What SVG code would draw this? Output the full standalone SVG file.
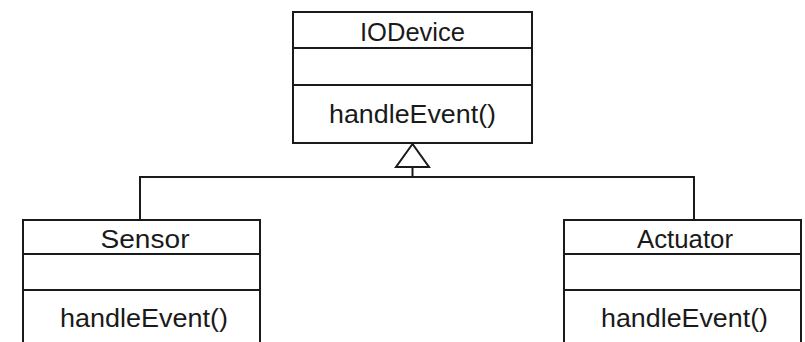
<svg xmlns="http://www.w3.org/2000/svg" width="805" height="342" viewBox="0 0 805 342">
<style>
.box{fill:#fff;stroke:#1a1a1a;stroke-width:2}
.ln{stroke:#1a1a1a;stroke-width:2;fill:none}
.t{font-family:"Liberation Sans",Arial,sans-serif;font-size:25px;fill:#1a1a1a;text-anchor:middle}
</style>
<rect width="805" height="342" fill="#fff"/>
<g id="connectors">
<polyline class="ln" points="140,220 140,177 694,177 694,220"/>
<line class="ln" x1="412.5" y1="177" x2="412.5" y2="167"/>
<polygon points="412.5,144 396,167 429,167" fill="#fff" stroke="#1a1a1a" stroke-width="2"/>
</g>
<g id="IODevice">
<rect class="box" x="293" y="12" width="239" height="131"/>
<line class="ln" x1="293" y1="48" x2="532" y2="48"/>
<line class="ln" x1="293" y1="85" x2="532" y2="85"/>
<text class="t" x="412.5" y="41" textLength="105" lengthAdjust="spacingAndGlyphs">IODevice</text>
<text class="t" x="412.5" y="123" textLength="167" lengthAdjust="spacingAndGlyphs">handleEvent()</text>
</g>
<g id="Sensor">
<rect class="box" x="23" y="220" width="237" height="130"/>
<line class="ln" x1="23" y1="254" x2="260" y2="254"/>
<line class="ln" x1="23" y1="290" x2="260" y2="290"/>
<text class="t" x="145" y="248" textLength="89" lengthAdjust="spacingAndGlyphs">Sensor</text>
<text class="t" x="144" y="327" textLength="168" lengthAdjust="spacingAndGlyphs">handleEvent()</text>
</g>
<g id="Actuator">
<rect class="box" x="564" y="220" width="237" height="130"/>
<line class="ln" x1="564" y1="254" x2="801" y2="254"/>
<line class="ln" x1="564" y1="290" x2="801" y2="290"/>
<text class="t" x="685" y="248" textLength="96" lengthAdjust="spacingAndGlyphs">Actuator</text>
<text class="t" x="684.5" y="327" textLength="167" lengthAdjust="spacingAndGlyphs">handleEvent()</text>
</g>
</svg>
